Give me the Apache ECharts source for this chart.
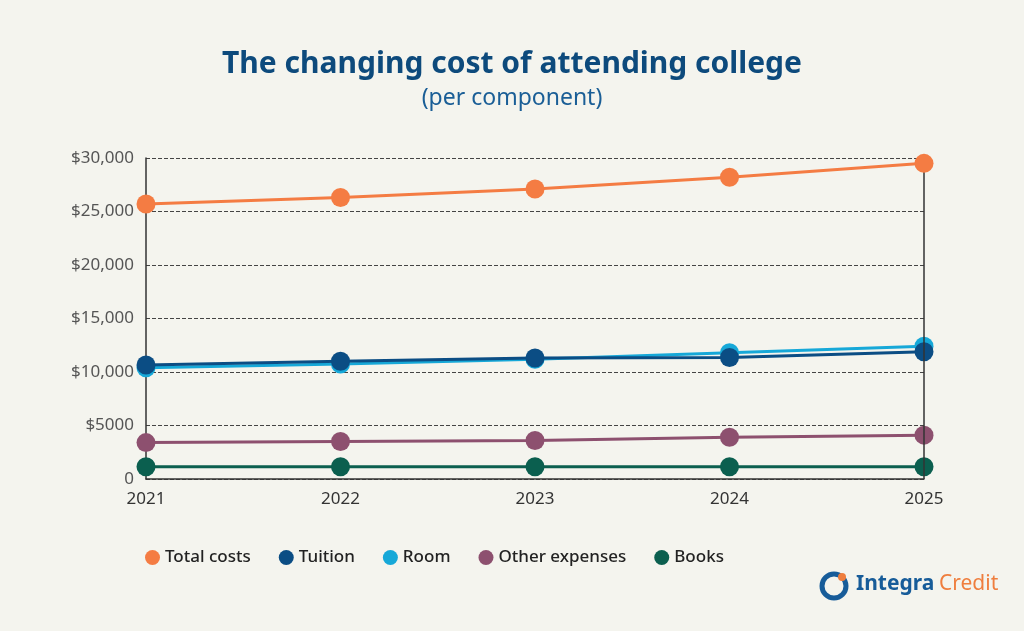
<!DOCTYPE html>
<html>
<head>
<meta charset="utf-8">
<script src="https://cdn.jsdelivr.net/npm/echarts@6/dist/echarts.min.js"></script>
<style>
  html, body { margin: 0; padding: 0; background: #f4f4ee; }
  #chart { width: 1024px; height: 631px; }
</style>
</head>
<body>
<div id="chart"></div>
<script>
const years = ['2021', '2022', '2023', '2024', '2025'];
const totalCosts = [25700, 26300, 27100, 28200, 29500];
const tuition = [10650, 11000, 11300, 11350, 11900];
const room = [10400, 10750, 11200, 11800, 12400];
const otherExpenses = [3400, 3500, 3600, 3900, 4100];
const books = [1150, 1150, 1150, 1150, 1150];

const chart = echarts.init(document.getElementById('chart'));
const font = '"Noto Sans", sans-serif';

function line(name, data, color, z) {
    return {
        name: name, type: 'line', data: data, z: z,
        symbol: 'circle', symbolSize: 19,
        lineStyle: { color: color, width: 3 },
        itemStyle: { color: color }
    };
}

chart.setOption({
    backgroundColor: '#f4f4ee',
    textStyle: { fontFamily: font },
    title: {
        text: 'The changing cost of attending college',
        subtext: '(per component)',
        left: 'center', top: 44, itemGap: 8,
        textStyle: { fontSize: 30, fontWeight: 'bold', color: '#0d4a7c', fontFamily: font },
        subtextStyle: { fontSize: 23, color: '#1a5e96', fontFamily: font }
    },
    legend: {
        left: 140, top: 544, itemWidth: 15, itemHeight: 15, itemGap: 28,
        icon: 'circle',
        textStyle: { fontSize: 17, fontWeight: 500, color: '#222', fontFamily: font },
        data: ['Total costs', 'Tuition', 'Room', 'Other expenses', 'Books']
    },
    graphic: [
        { type: 'text', left: 856, top: 574, style: { text: 'Integra', fontSize: 21, fontWeight: 'bold', fill: '#175c99', fontFamily: font } },
        { type: 'text', left: 939, top: 574, style: { text: 'Credit', fontSize: 21, fill: '#ef7e3e', fontFamily: font } },
        { type: 'circle', shape: { cx: 834, cy: 586, r: 12 }, style: { fill: 'none', stroke: '#175c99', lineWidth: 5 } },
        { type: 'circle', shape: { cx: 842, cy: 577, r: 4 }, style: { fill: '#ef7e3e' } }
    ],
    grid: { left: 146, right: 100, top: 158, bottom: 152 },
    xAxis: {
        type: 'category', data: years, boundaryGap: false,
        axisLine: { lineStyle: { color: '#333', width: 1.5 } },
        axisTick: { show: false },
        axisLabel: { fontSize: 17, color: '#333', margin: 12 },
        splitLine: { show: false }
    },
    yAxis: {
        type: 'value', min: 0, max: 30000, interval: 5000,
        axisLine: { show: true, lineStyle: { color: '#333', width: 1.5 } },
        axisLabel: {
            fontSize: 17, color: '#555', margin: 12,
            formatter: function (v) {
                if (v === 0) return '0';
                if (v === 5000) return '$5000';
                return '$' + v.toLocaleString('en-US');
            }
        },
        splitLine: { lineStyle: { color: '#444', type: 'dashed', width: 1 } }
    },
    series: [
        line('Total costs', totalCosts, '#f47c43', 5),
        line('Room', room, '#16a8d8', 3),
        line('Tuition', tuition, '#0b4d84', 4),
        line('Other expenses', otherExpenses, '#8d506f', 3),
        line('Books', books, '#0b5f4f', 3),
        {
            type: 'line', data: [], markLine: {
                silent: true, symbol: 'none', label: { show: false },
                lineStyle: { color: '#333', type: 'solid', width: 1.5 },
                data: [{ xAxis: '2025' }]
            }
        }
    ]
});
</script>
</body>
</html>
